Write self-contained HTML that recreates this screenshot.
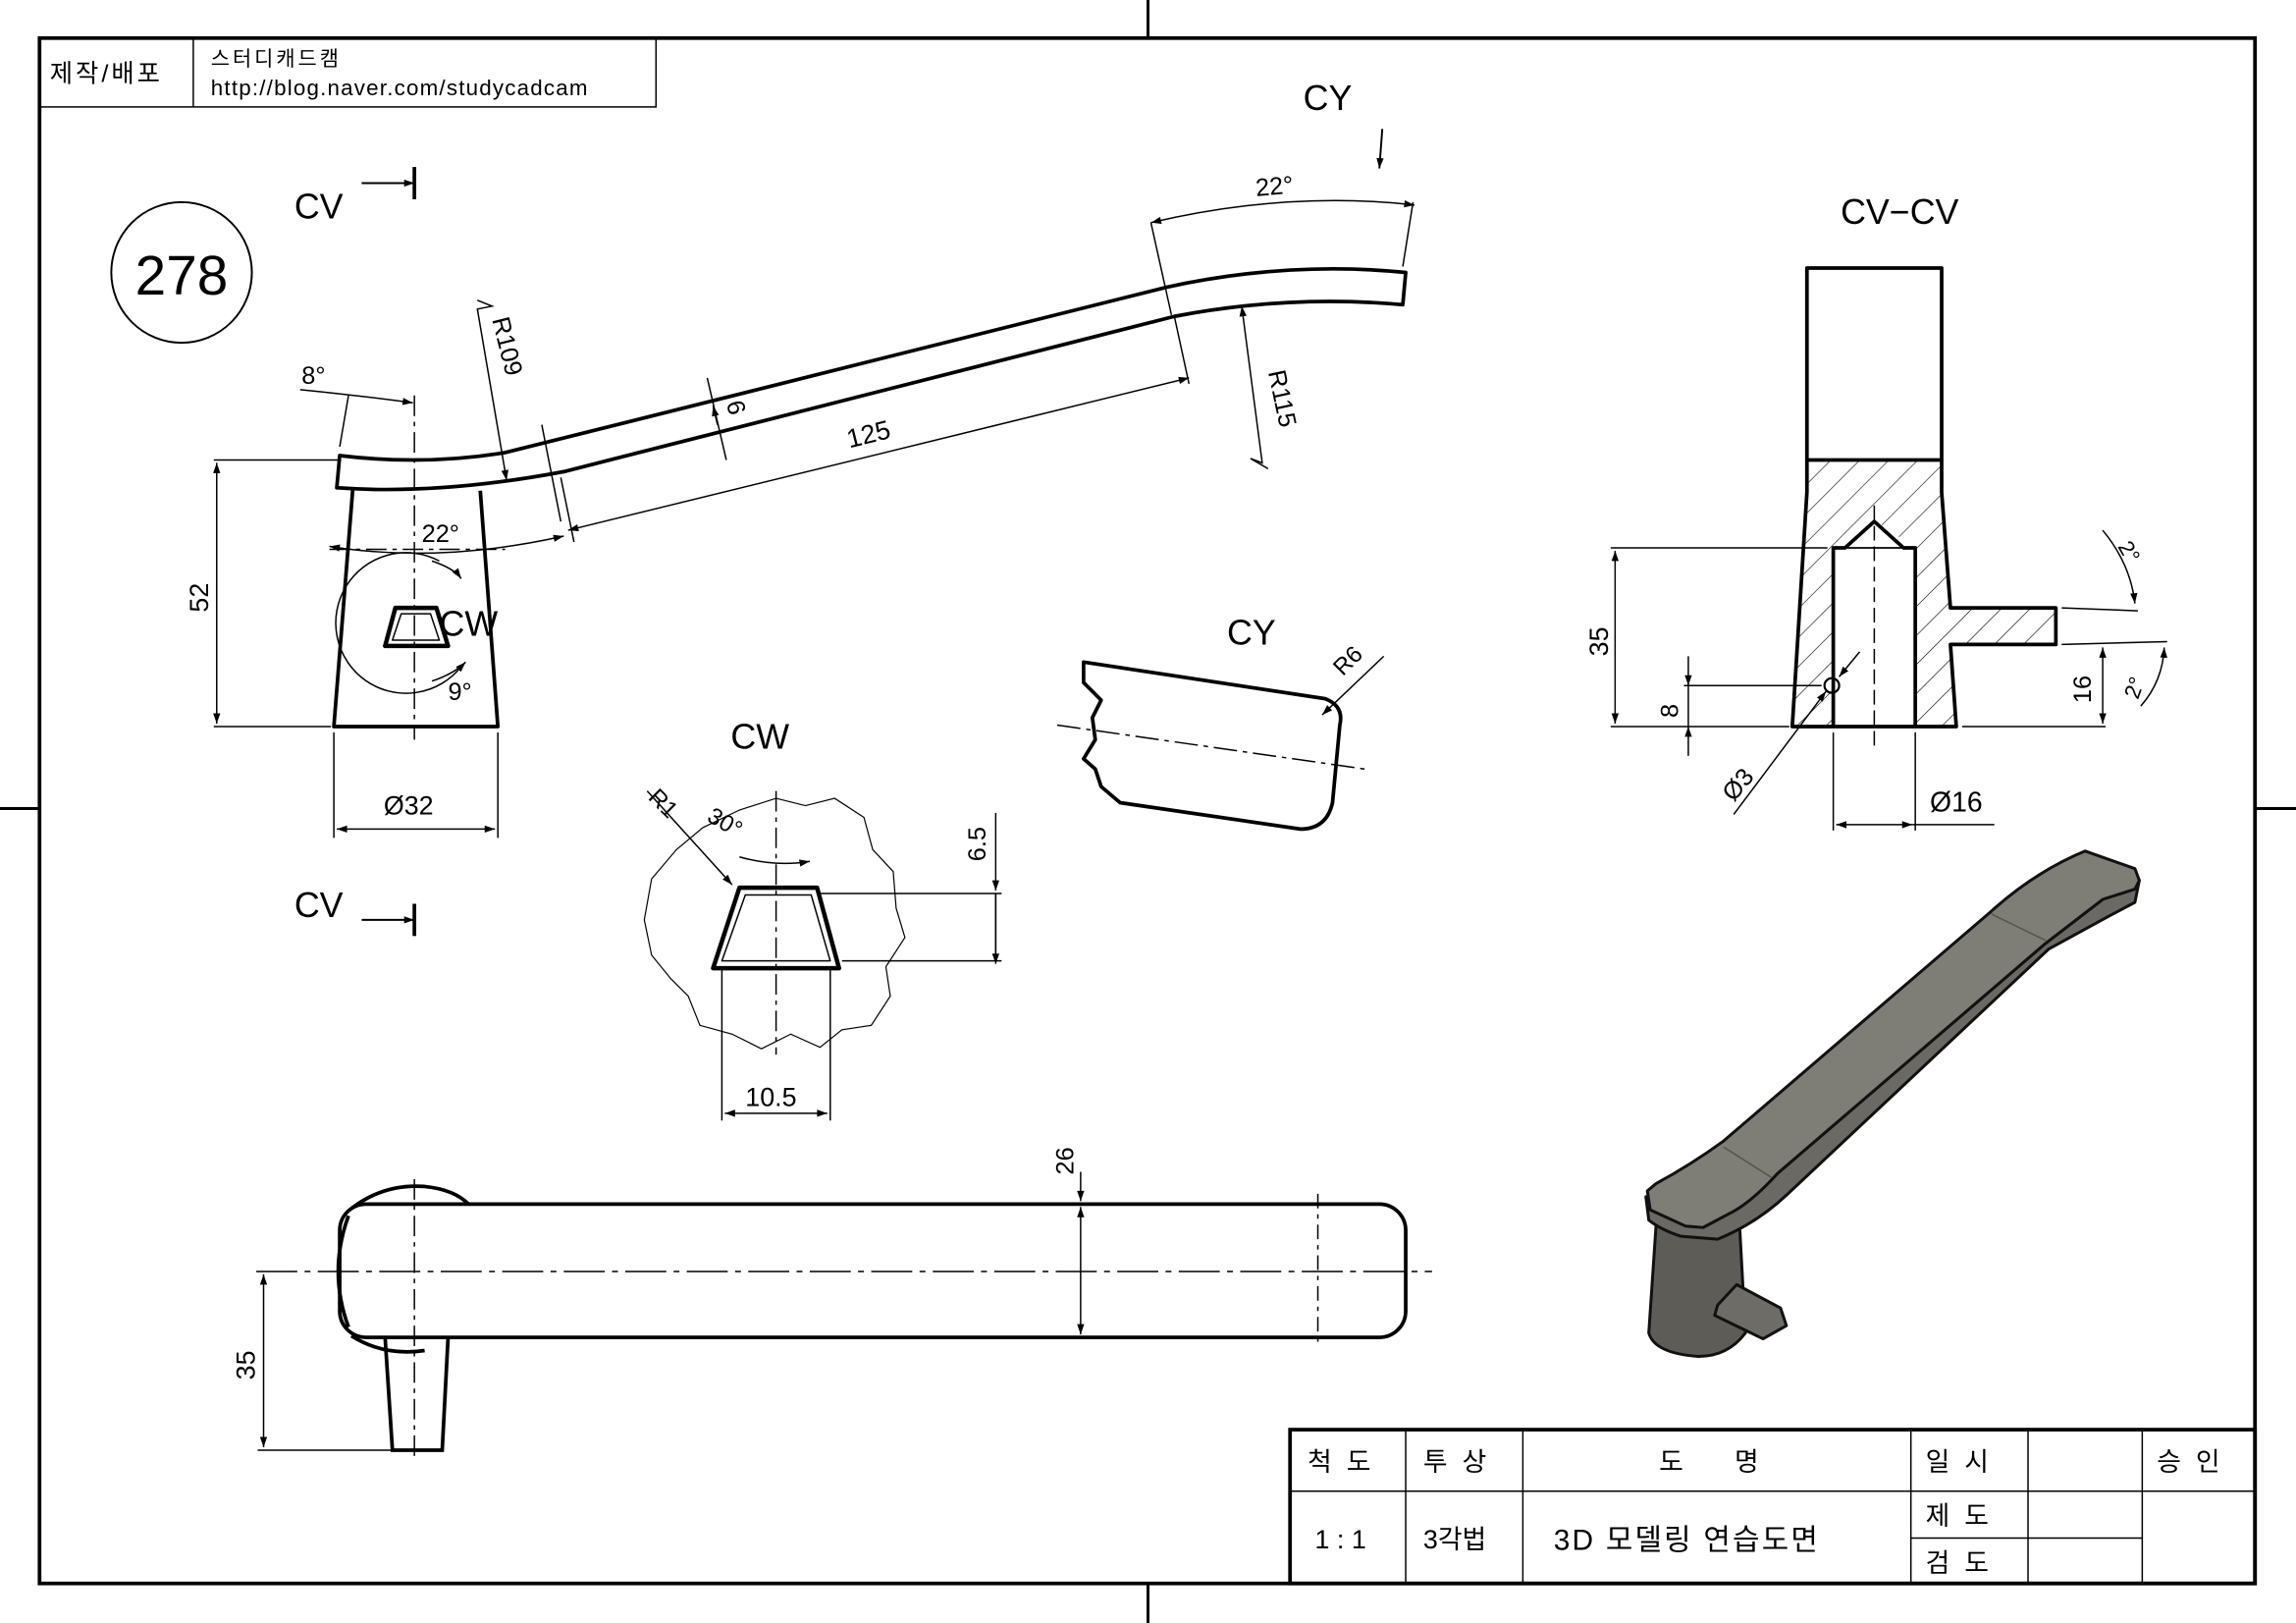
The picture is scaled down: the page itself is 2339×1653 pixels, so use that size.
<!DOCTYPE html>
<html><head><meta charset="utf-8"><style>
html,body{margin:0;padding:0;background:#fff}
svg{display:block}
text{font-family:"Liberation Sans","Noto Sans CJK KR",sans-serif;fill:#000;white-space:pre}
</style></head><body>
<svg width="2339" height="1653" viewBox="0 0 1568 1108" preserveAspectRatio="none" xmlns="http://www.w3.org/2000/svg" xml:space="preserve">
<defs>
<marker id="a" viewBox="0 0 10 10" refX="10" refY="5" markerWidth="10" markerHeight="7" markerUnits="userSpaceOnUse" orient="auto-start-reverse"><path d="M0,1.5 L10,5 L0,8.5z" fill="#000"/></marker>
<pattern id="h" width="14" height="14" patternUnits="userSpaceOnUse" patternTransform="rotate(45)"><line x1="0" y1="0" x2="0" y2="14" stroke="#000" stroke-width="0.8"/></pattern>
</defs>
<rect x="0" y="0" width="1568" height="1108" fill="#fff"/>
<rect x="27" y="26" width="1513" height="1055" fill="none" stroke="#000" stroke-width="2.5"/>
<g stroke="#000" stroke-width="2">
<line x1="784" y1="0" x2="784" y2="26"/><line x1="784" y1="1081" x2="784" y2="1108"/>
<line x1="0" y1="552" x2="27" y2="552"/><line x1="1540" y1="552" x2="1568" y2="552"/>
</g>
<rect x="27" y="26" width="421" height="47" fill="none" stroke="#000" stroke-width="1"/>
<line x1="132" y1="26" x2="132" y2="73" stroke="#000"/>
<text x="34" y="56" font-size="17" letter-spacing="2">제작/배포</text>
<text x="144" y="45" font-size="14" letter-spacing="2">스터디캐드캠</text>
<text x="144" y="65" font-size="15" letter-spacing="0.8">http://blog.naver.com/studycadcam</text>
<ellipse cx="124" cy="186" rx="48" ry="48" fill="none" stroke="#000" stroke-width="1.3"/>
<text x="124" y="201" font-size="38" text-anchor="middle">278</text>
<text x="201" y="149" font-size="24">CV</text>
<line x1="247" y1="125" x2="283" y2="125" stroke="#000" stroke-width="1.3" marker-end="url(#a)"/>
<line x1="283" y1="114" x2="283" y2="136" stroke="#000" stroke-width="2.5"/>
<text x="201" y="626" font-size="24">CV</text>
<line x1="247" y1="628" x2="283" y2="628" stroke="#000" stroke-width="1.3" marker-end="url(#a)"/>
<line x1="283" y1="617" x2="283" y2="639" stroke="#000" stroke-width="2.5"/>
<text x="890" y="75" font-size="24">CY</text>
<line x1="944" y1="88" x2="942" y2="115" stroke="#000" stroke-width="1.3" marker-end="url(#a)"/>

<g fill="none" stroke="#000" stroke-width="2.5" stroke-linejoin="round">
<path d="M232,311 Q290,318 345,309 L797,196 Q880,178 960,186 L958,208 Q880,201 802,216 L385,322 Q300,338 230,333 Z"/>
<path d="M241,333 L228,496 L340,496 L328,335"/>
<path d="M263,441 L306,441 L298,415 L270,415 Z" stroke-width="3"/>
<path d="M268,437 L300,437 L294,419 L274,419 Z" stroke-width="1"/>
</g>
<g fill="none" stroke="#000" stroke-width="1">
<path d="M300,383 A48,48 0 1 0 315,455"/>
<line x1="283" y1="270" x2="283" y2="505" stroke-dasharray="14,4,3,4"/>
<line x1="225" y1="375" x2="345" y2="375" stroke-dasharray="14,4,3,4"/>
<line x1="146" y1="314" x2="232" y2="314"/><line x1="146" y1="496" x2="226" y2="496"/>
<line x1="148" y1="316" x2="148" y2="494" marker-start="url(#a)" marker-end="url(#a)"/>
<line x1="228" y1="500" x2="228" y2="572"/><line x1="340" y1="500" x2="340" y2="572"/>
<line x1="230" y1="566" x2="338" y2="566" marker-start="url(#a)" marker-end="url(#a)"/>
<line x1="232" y1="305" x2="238" y2="270"/>
<path d="M205,266 Q245,270 282,275" marker-end="url(#a)"/>
<path d="M225,373 Q300,385 385,366" marker-start="url(#a)" marker-end="url(#a)"/>
<line x1="383" y1="326" x2="392" y2="370"/>
<line x1="370" y1="290" x2="383" y2="356"/>
<line x1="388" y1="362" x2="812" y2="258" marker-start="url(#a)" marker-end="url(#a)"/>
<line x1="802" y1="216" x2="812" y2="262"/>
<line x1="483" y1="258" x2="496" y2="314"/>
<line x1="487" y1="277" x2="490" y2="290" marker-start="url(#a)"/>
<path d="M326,205 L336,209 L326,211 L346,328" marker-end="url(#a)"/>
<path d="M866,320 L854,313 L862,316 L848,209" marker-end="url(#a)"/>
<line x1="786" y1="152" x2="800" y2="215"/>
<line x1="965" y1="138" x2="958" y2="182"/>
<path d="M786,152 Q880,130 966,140" marker-start="url(#a)" marker-end="url(#a)"/>
<path d="M295,383 Q310,388 315,395" marker-end="url(#a)"/>
<path d="M295,465 Q310,460 318,452" marker-end="url(#a)"/>
</g>
<text x="206" y="262" font-size="17">8°</text>
<text x="288" y="370" font-size="17">22°</text>
<text x="306" y="478" font-size="17">9°</text>
<text x="300" y="434" font-size="24">CW</text>
<text x="262" y="556" font-size="18">Ø32</text>
<text x="0" y="0" font-size="18" transform="translate(142,418) rotate(-90)">52</text>
<text x="0" y="0" font-size="17" transform="translate(336,218) rotate(76)">R109</text>
<text x="0" y="0" font-size="17" transform="translate(866,254) rotate(78)">R115</text>
<text x="0" y="0" font-size="17" transform="translate(496,275) rotate(76)">6</text>
<text x="0" y="0" font-size="18" transform="translate(580,306) rotate(-14)">125</text>
<text x="0" y="0" font-size="17" transform="translate(858,134) rotate(-5)">22°</text>

<text x="1257" y="153" font-size="24">CV−CV</text>
<path d="M1234,314 L1326,314 L1326,336 L1332,415 L1404,415 L1404,440 L1332,440 L1336,496 L1224,496 L1234,336 Z M1252,374 L1280,355 L1308,374 L1308,496 L1252,496 Z" fill="url(#h)" fill-rule="evenodd" stroke="none"/>
<g fill="none" stroke="#000" stroke-width="2.5" stroke-linejoin="round">
<rect x="1234" y="183" width="92" height="131"/>
<path d="M1234,314 L1234,336 L1224,496 L1336,496 L1332,440 L1404,440 L1404,415 L1332,415 L1326,336 L1326,314"/>
<path d="M1252,496 L1252,374 L1260,374 L1280,356 L1300,374 L1308,374 L1308,496"/>
<line x1="1260" y1="374" x2="1300" y2="374" stroke-width="1.2"/>
<circle cx="1251" cy="468" r="5" stroke-width="1.5"/>
</g>
<g fill="none" stroke="#000" stroke-width="1">
<line x1="1280" y1="345" x2="1280" y2="510" stroke-dasharray="10,4"/>
<line x1="1100" y1="374" x2="1248" y2="374"/><line x1="1100" y1="496" x2="1222" y2="496"/>
<line x1="1103" y1="376" x2="1103" y2="494" marker-start="url(#a)" marker-end="url(#a)"/>
<line x1="1150" y1="468" x2="1244" y2="468"/>
<line x1="1153" y1="448" x2="1153" y2="468" marker-end="url(#a)"/>
<line x1="1153" y1="516" x2="1153" y2="496" marker-end="url(#a)"/>
<line x1="1153" y1="468" x2="1153" y2="496"/>
<line x1="1340" y1="496" x2="1438" y2="496"/>
<line x1="1408" y1="440" x2="1480" y2="438"/><line x1="1408" y1="415" x2="1460" y2="417"/>
<line x1="1436" y1="442" x2="1436" y2="494" marker-start="url(#a)" marker-end="url(#a)"/>
<path d="M1436,362 Q1455,385 1458,412" marker-end="url(#a)"/>
<path d="M1462,482 Q1477,465 1478,442" marker-end="url(#a)"/>
<line x1="1184" y1="556" x2="1247" y2="472" marker-end="url(#a)"/>
<line x1="1270" y1="445" x2="1256" y2="462" marker-end="url(#a)"/>
<line x1="1252" y1="500" x2="1252" y2="567"/><line x1="1308" y1="500" x2="1308" y2="567"/>
<line x1="1254" y1="563" x2="1306" y2="563" marker-start="url(#a)" marker-end="url(#a)"/>
<line x1="1306" y1="563" x2="1362" y2="563"/>
</g>
<text x="0" y="0" font-size="18" transform="translate(1098,448) rotate(-90)">35</text>
<text x="0" y="0" font-size="17" transform="translate(1146,490) rotate(-90)">8</text>
<text x="0" y="0" font-size="17" transform="translate(1428,480) rotate(-90)">16</text>
<text x="0" y="0" font-size="17" transform="translate(1184,548) rotate(-50)">Ø3</text>
<text x="1318" y="554" font-size="19">Ø16</text>
<text x="0" y="0" font-size="15" transform="translate(1446,373) rotate(60)">2°</text>
<text x="0" y="0" font-size="15" transform="translate(1460,478) rotate(-70)">2°</text>

<text x="838" y="440" font-size="24">CY</text>
<g fill="none" stroke="#000" stroke-width="2.5" stroke-linejoin="round">
<path d="M740,452 L905,477 Q918,482 915,495 L910,548 Q906,566 888,566 L765,548 L752,537 L748,525 L740,518 L748,505 L746,490 L752,478 L740,466 Z"/>
</g>
<g fill="none" stroke="#000" stroke-width="1">
<line x1="722" y1="495" x2="932" y2="525" stroke-dasharray="16,4,3,4"/>
<line x1="945" y1="448" x2="903" y2="488" marker-end="url(#a)"/>
</g>
<text x="0" y="0" font-size="16" transform="translate(917,462) rotate(-45)">R6</text>

<text x="499" y="511" font-size="24">CW</text>
<path d="M530,545 L550,550 L570,545 L590,558 L596,580 L610,595 L612,620 L618,640 L605,660 L608,680 L595,700 L575,703 L560,715 L540,706 L520,716 L500,706 L478,700 L470,680 L458,668 L445,652 L440,628 L445,600 L462,580 L480,565 L505,553 Z" fill="none" stroke="#000" stroke-width="0.8"/>
<g fill="none" stroke="#000" stroke-linejoin="round">
<path d="M487,661 L573,661 L558,606 L505,606 Z" stroke-width="3"/>
<path d="M493,656 L567,656 L554,611 L509,611 Z" stroke-width="1"/>
</g>
<g fill="none" stroke="#000" stroke-width="1">
<line x1="530" y1="540" x2="530" y2="720" stroke-dasharray="14,4,3,4"/>
<line x1="560" y1="610" x2="684" y2="610"/><line x1="575" y1="656" x2="684" y2="656"/>
<line x1="680" y1="555" x2="680" y2="608" marker-end="url(#a)"/>
<line x1="680" y1="658" x2="680" y2="610" marker-start="url(#a)"/>
<line x1="680" y1="610" x2="680" y2="656"/>
<line x1="493" y1="661" x2="493" y2="765"/><line x1="567" y1="661" x2="567" y2="765"/>
<line x1="495" y1="760" x2="565" y2="760" marker-start="url(#a)" marker-end="url(#a)"/>
<line x1="442" y1="540" x2="500" y2="604" marker-end="url(#a)"/>
<path d="M505,585 Q530,592 553,588" marker-end="url(#a)"/>
</g>
<text x="0" y="0" font-size="16" transform="translate(442,545) rotate(45)">R1</text>
<text x="0" y="0" font-size="16" transform="translate(482,560) rotate(30)">30°</text>
<text x="0" y="0" font-size="17" transform="translate(673,588) rotate(-90)">6.5</text>
<text x="509" y="755" font-size="18">10.5</text>

<g fill="none" stroke="#000" stroke-width="2.5">
<path d="M240,825 Q262,808 290,810 Q310,812 320,822"/>
<path d="M240,912 Q262,926 290,922"/>
<path d="M238,830 Q224,868 238,906"/>
<rect x="232" y="822" width="728" height="91" rx="18"/>
<path d="M263,913 L268,990 L302,990 L306,913"/>
</g>
<g fill="none" stroke="#000" stroke-width="1">
<line x1="175" y1="868" x2="978" y2="868" stroke-dasharray="28,5,4,5"/>
<line x1="283" y1="805" x2="283" y2="998" stroke-dasharray="14,4,3,4"/>
<line x1="900" y1="815" x2="900" y2="920" stroke-dasharray="10,4,3,4"/>
<line x1="176" y1="990" x2="268" y2="990"/>
<line x1="180" y1="870" x2="180" y2="988" marker-start="url(#a)" marker-end="url(#a)"/>
<line x1="738" y1="800" x2="738" y2="820" marker-end="url(#a)"/>
<line x1="738" y1="824" x2="738" y2="911" marker-start="url(#a)" marker-end="url(#a)"/>
</g>
<text x="0" y="0" font-size="18" transform="translate(174,942) rotate(-90)">35</text>
<text x="0" y="0" font-size="17" transform="translate(733,802) rotate(-90)">26</text>

<!-- 3D render -->
<g stroke="#111" stroke-width="2" stroke-linejoin="round">
<path d="M1131,836 L1188,836 L1192,910 Q1180,926 1160,926 Q1130,924 1126,910 Z" fill="#5d5c57"/>
<path d="M1173,891 L1186,877 L1216,893 L1220,905 L1204,914 L1171,898 Z" fill="#6d6c67"/>
<path d="M1124,817 L1126,833 Q1135,840 1148,844 L1173,846 Q1200,835 1221,815 L1399,648 L1441,625 L1458,616 L1461,601 L1436,614 L1397,644 L1214,801 Q1195,822 1163,838 Q1140,834 1124,817 Z" fill="#6a6964"/>
<path d="M1125,813 L1131,808 Q1155,795 1177,779 L1360,622 Q1390,595 1424,581 L1458,593 L1461,601 L1458,607 L1436,614 L1397,644 L1214,801 Q1195,822 1180,829 L1163,838 L1151,837 L1127,826 Z" fill="#7e7d76"/>
</g>
<g stroke="#55544f" stroke-width="1"><line x1="1177" y1="783" x2="1210" y2="804"/><line x1="1360" y1="624" x2="1397" y2="642"/></g>

<g fill="none" stroke="#000">
<rect x="881" y="976" width="659" height="105" stroke-width="2.5"/>
<line x1="881" y1="1018" x2="1540" y2="1018" stroke-width="1"/>
<line x1="1305" y1="1050" x2="1463" y2="1050" stroke-width="1"/>
<line x1="960" y1="976" x2="960" y2="1081" stroke-width="1"/>
<line x1="1040" y1="976" x2="1040" y2="1081" stroke-width="1"/>
<line x1="1305" y1="976" x2="1305" y2="1081" stroke-width="1"/>
<line x1="1385" y1="976" x2="1385" y2="1081" stroke-width="1"/>
<line x1="1463" y1="976" x2="1463" y2="1081" stroke-width="1"/>
</g>
<g font-size="18">
<text x="893" y="1004">척  도</text>
<text x="972" y="1004">투  상</text>
<text x="1133" y="1004">도       명</text>
<text x="1315" y="1004">일  시</text>
<text x="1473" y="1004">승  인</text>
<text x="898" y="1057">1 : 1</text>
<text x="972" y="1057">3각법</text>
<text x="1061" y="1058" font-size="20" letter-spacing="1.5">3D 모델링 연습도면</text>
<text x="1315" y="1041">제  도</text>
<text x="1315" y="1073">검  도</text>
</g>
</svg>
</body></html>
